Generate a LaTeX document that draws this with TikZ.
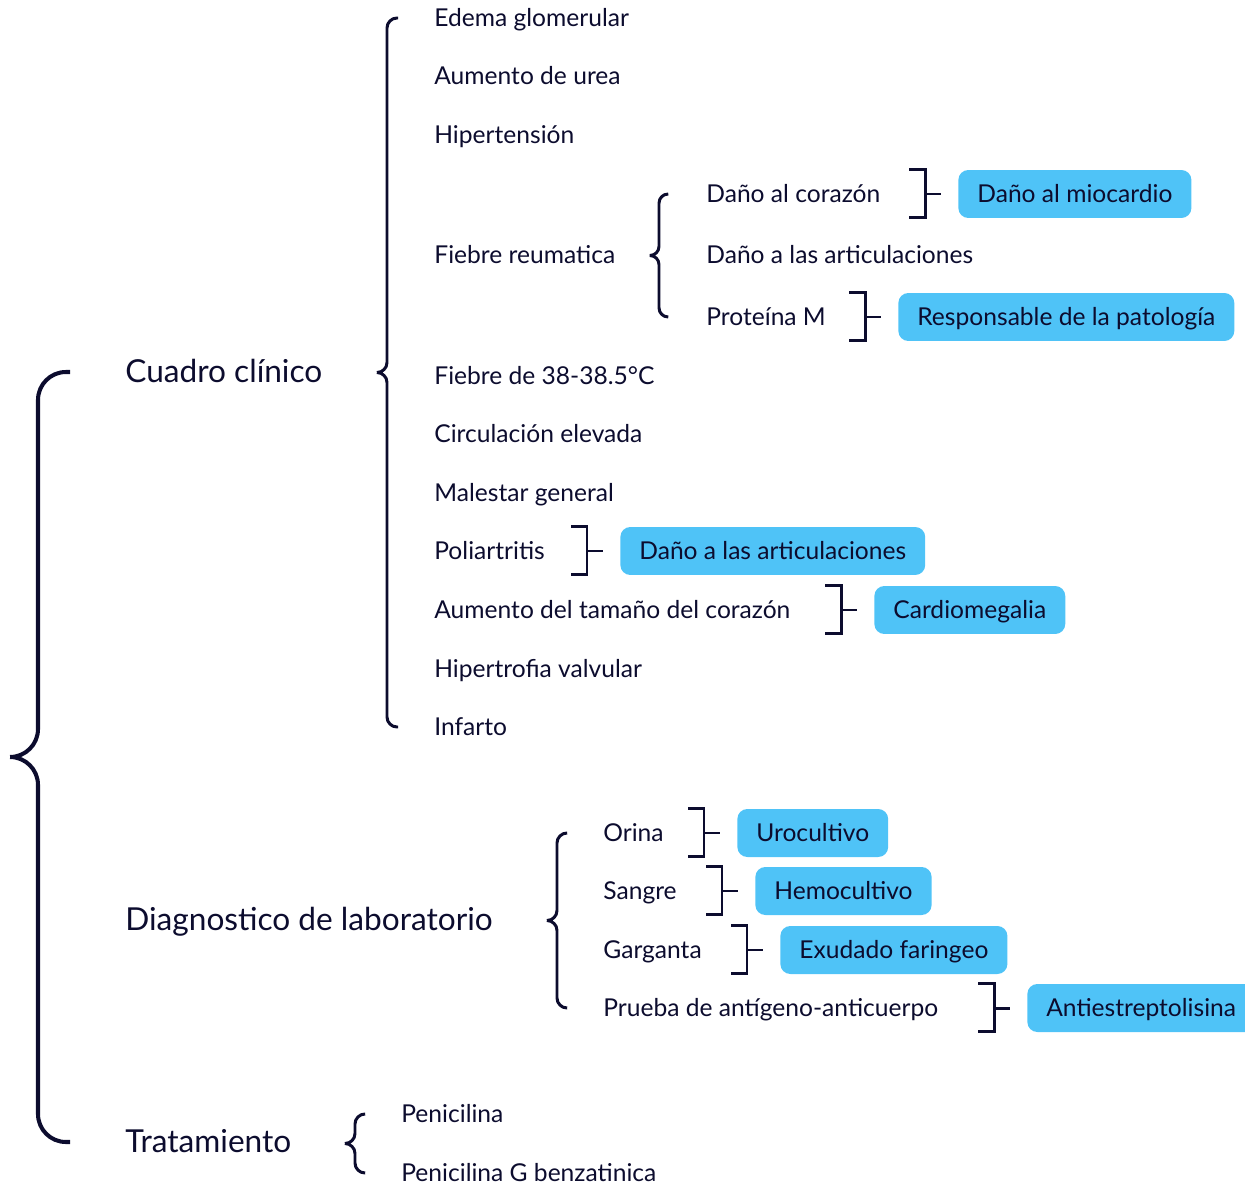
\documentclass[tikz,border=0pt]{standalone}
\usepackage{fontspec}
\setmainfont{Lato}
\usepackage{tikz}
\usetikzlibrary{calc}

\definecolor{ink}{HTML}{0C0C2E}
\definecolor{skyfill}{HTML}{4FC3F7}

\tikzset{
  item/.style={anchor=west, inner sep=0pt, text height=1.9ex, text depth=0pt,
    font=\fontsize{14}{16}\selectfont, text=ink},
  head/.style={item, text height=2.3ex, font=\fontsize{18}{21}\selectfont},
  result/.style={anchor=west, fill=skyfill, rounded corners=0.2cm,
    minimum height=0.96cm, inner xsep=0.38cm, text height=1.9ex, text depth=0pt,
    font=\fontsize{14}{16}\selectfont, text=ink},
  curly/.style={draw=ink, line width=1.7pt, rounded corners=#1},
  bracket/.style={draw=ink, line width=1.7pt}
}

\begin{document}
\begin{tikzpicture}[x=0.02cm, y=-0.02cm]
  \useasboundingbox (0,0) rectangle (1245,1193);

  % main headings
  \node[head] (cuadro) at (125,372) {Cuadro clínico};
  \node[head] (diag) at (125,920) {Diagnostico de laboratorio};
  \node[head] (trat) at (125,1142) {Tratamiento};

  % big brace on the left
  \coordinate (bt) at ($(cuadro.west)+(-55,0)$);
  \coordinate (bb) at ($(trat.west)+(-55,0)$);
  \coordinate (btip) at ($(bt)!0.5!(bb)+(-60,0)$);
  \draw[curly=15.9pt, line width=2.3pt] (bt) -- ++(-32,0) |- (btip) (bb) -- ++(-32,0) |- (btip);

  % cuadro clinico
  \node[item] (edema) at (434,18) {Edema glomerular};
  \node[item] (urea) at (434,76) {Aumento de urea};
  \node[item] (hiper) at (434,135) {Hipertensión};
  \node[item] (fiebre) at (434,255) {Fiebre reumatica};
  \node[item] (temp) at (434,376) {Fiebre de 38-38.5°C};
  \node[item] (circ) at (434,434) {Circulación elevada};
  \node[item] (malestar) at (434,493) {Malestar general};
  \node[item] (poli) at (434,551) {Poliartritis};
  \node[item] (tamano) at (434,610) {Aumento del tamaño del corazón};
  \node[item] (valv) at (434,669) {Hipertrofia valvular};
  \node[item] (infarto) at (434,727) {Infarto};
  \coordinate (ct) at ($(edema.west)+(-36,0)$);
  \coordinate (cb) at ($(infarto.west)+(-36,0)$);
  \coordinate (ctip) at ($(ct)!0.5!(cb)+(-20,0)$);
  \draw[curly=5.7pt] (ct) -- ++(-11,0) |- (ctip) (cb) -- ++(-11,0) |- (ctip);

  % fiebre reumatica
  \node[item] (corazon) at (706,194) {Daño al corazón};
  \node[item] (artic) at (706,255) {Daño a las articulaciones};
  \node[item] (prot) at (706,317) {Proteína M};
  \coordinate (ft) at ($(corazon.west)+(-38,0)$);
  \coordinate (fb) at ($(prot.west)+(-38,0)$);
  \coordinate (ftip) at ($(ft)!0.5!(fb)+(-18,0)$);
  \draw[curly=5.2pt] (ft) -- ++(-9,0) |- (ftip) (fb) -- ++(-9,0) |- (ftip);

  % diagnostico
  \node[item] (orina) at (603,833) {Orina};
  \node[item] (sangre) at (603,891) {Sangre};
  \node[item] (garg) at (603,950) {Garganta};
  \node[item] (prueba) at (603,1008) {Prueba de antígeno-anticuerpo};
  \coordinate (dt) at ($(orina.west)+(-36,0)$);
  \coordinate (db) at ($(prueba.west)+(-36,0)$);
  \coordinate (dtip) at ($(dt)!0.5!(db)+(-20,0)$);
  \draw[curly=5.7pt] (dt) -- ++(-10,0) |- (dtip) (db) -- ++(-10,0) |- (dtip);

  % tratamiento
  \node[item] (peni) at (401,1114) {Penicilina};
  \node[item] (penig) at (401,1173) {Penicilina G benzatinica};
  \coordinate (tt) at ($(peni.west)+(-36,0)$);
  \coordinate (tb) at ($(penig.west)+(-36,0)$);
  \coordinate (ttip) at ($(tt)!0.5!(tb)+(-20,0)$);
  \draw[curly=5.7pt] (tt) -- ++(-10,0) |- (ttip) (tb) -- ++(-10,0) |- (ttip);

  % blue boxes
  \node[result] (miocardio) at (958,194) {Daño al miocardio};
  \node[result] (patologia) at (898,317) {Responsable de la patología};
  \node[result] (dano) at (620,551) {Daño a las articulaciones};
  \node[result] (cardio) at (874,610) {Cardiomegalia};
  \node[result] (uro) at (737,833) {Urocultivo};
  \node[result] (hemo) at (755,891) {Hemocultivo};
  \node[result] (exud) at (780,950) {Exudado faringeo};
  \node[result] (anti) at (1027,1008) {Antiestreptolisina};

  % brackets between the text and its box
  \foreach \b in {miocardio,patologia,dano,cardio,uro,hemo,exud,anti} {
    \draw[bracket] ($(\b.north west)+(-49,0)$) -- ++(16,0) -- ++(0,48) -- ++(-16,0);
    \draw[bracket] ($(\b.west)+(-33,0)$) -- ($(\b.west)+(-17,0)$);
  }
\end{tikzpicture}
\end{document}
